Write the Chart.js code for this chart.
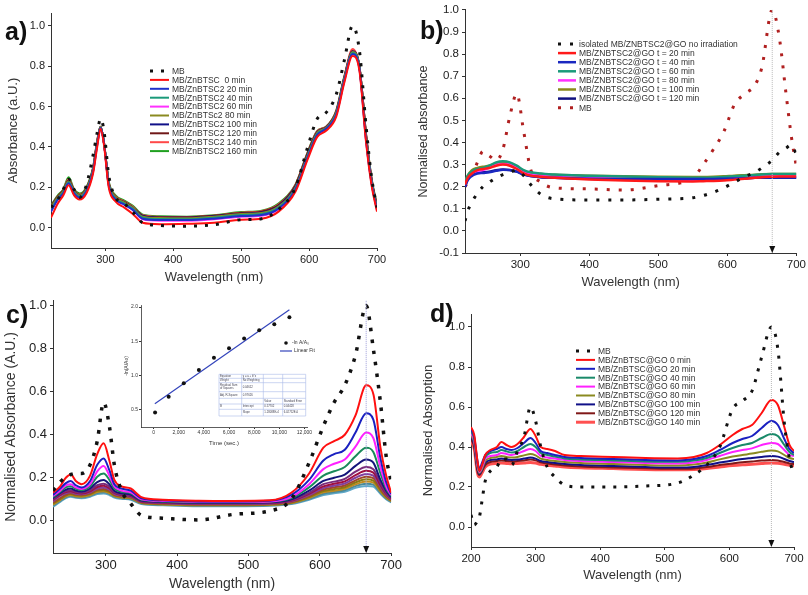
<!DOCTYPE html>
<html>
<head>
<meta charset="utf-8">
<script src="https://cdn.jsdelivr.net/npm/chart.js@4.4.0/dist/chart.umd.min.js"></script>
<style>
  body { margin: 0; background: #fff; width: 808px; height: 595px; position: relative; overflow: hidden; }
  canvas { position: absolute; }
  .lbl { position: absolute; font-family: "Liberation Sans", Arial, sans-serif; font-weight: bold; font-size: 25px; color: #111; }
</style>
</head>
<body>
<canvas id="chartA" width="404" height="290" style="left:0;top:0"></canvas>
<canvas id="chartB" width="404" height="290" style="left:404px;top:0"></canvas>
<canvas id="chartC" width="404" height="305" style="left:0;top:290px"></canvas>
<canvas id="chartD" width="404" height="305" style="left:404px;top:290px"></canvas>
<canvas id="chartIn" width="240" height="155" style="left:95px;top:298px"></canvas>
<div class="lbl" style="left:5px;top:17px">a)</div>
<div class="lbl" style="left:420px;top:16px">b)</div>
<div class="lbl" style="left:6px;top:300px">c)</div>
<div class="lbl" style="left:430px;top:299px">d)</div>
<script>
var FONT = '"Liberation Sans", Arial, Helvetica, sans-serif';

// ---------- panel a ----------
var waveA = [220,230,238,246,254,262,272,282,288,293,298,305,315,328,340,355,380,420,460,500,530,555,580,598,612,625,640,652,664,674,684,692,700];
var mbA = [0.10,0.14,0.19,0.24,0.19,0.15,0.21,0.36,0.47,0.54,0.48,0.26,0.15,0.12,0.08,0.025,0.012,0.008,0.015,0.04,0.045,0.09,0.20,0.40,0.54,0.57,0.66,0.83,1.0,0.88,0.50,0.25,0.10];
var a0 = [0.05,0.12,0.16,0.21,0.16,0.14,0.17,0.27,0.40,0.49,0.41,0.20,0.13,0.10,0.07,0.025,0.018,0.02,0.025,0.04,0.045,0.08,0.18,0.34,0.45,0.48,0.55,0.72,0.85,0.78,0.42,0.21,0.08];
var a20 = [0.08,0.14,0.17,0.22,0.17,0.15,0.18,0.28,0.41,0.495,0.42,0.21,0.14,0.115,0.09,0.045,0.038,0.038,0.045,0.058,0.063,0.095,0.19,0.35,0.46,0.49,0.56,0.73,0.86,0.79,0.43,0.22,0.09];
var a40 = [0.09,0.145,0.175,0.225,0.175,0.155,0.185,0.285,0.415,0.495,0.42,0.215,0.145,0.12,0.095,0.05,0.043,0.042,0.05,0.063,0.068,0.1,0.195,0.355,0.465,0.49,0.565,0.735,0.865,0.795,0.44,0.225,0.095];
var a60 = [0.085,0.14,0.17,0.22,0.17,0.15,0.18,0.28,0.41,0.49,0.415,0.21,0.14,0.115,0.09,0.042,0.035,0.035,0.042,0.055,0.06,0.092,0.19,0.35,0.46,0.485,0.56,0.73,0.86,0.79,0.43,0.22,0.09];
var a80 = [0.1,0.15,0.18,0.23,0.18,0.16,0.19,0.29,0.42,0.5,0.42,0.22,0.15,0.125,0.1,0.055,0.048,0.047,0.055,0.068,0.073,0.105,0.2,0.36,0.47,0.495,0.57,0.74,0.87,0.8,0.45,0.23,0.1];
var a100 = [0.1,0.15,0.18,0.23,0.18,0.16,0.19,0.29,0.42,0.5,0.42,0.22,0.15,0.125,0.1,0.058,0.05,0.05,0.057,0.07,0.076,0.108,0.205,0.365,0.472,0.497,0.572,0.742,0.872,0.8,0.45,0.235,0.1];
var a120 = [0.105,0.155,0.185,0.235,0.185,0.162,0.195,0.295,0.425,0.5,0.42,0.222,0.152,0.128,0.102,0.06,0.052,0.052,0.06,0.073,0.08,0.112,0.21,0.37,0.475,0.498,0.575,0.745,0.875,0.8,0.455,0.24,0.105];
var a140 = [0.105,0.155,0.185,0.24,0.185,0.165,0.195,0.295,0.43,0.5,0.42,0.225,0.155,0.13,0.105,0.062,0.054,0.053,0.06,0.075,0.082,0.115,0.212,0.372,0.478,0.5,0.578,0.748,0.885,0.8,0.46,0.24,0.105];
var a160 = [0.11,0.16,0.19,0.25,0.19,0.17,0.2,0.3,0.43,0.5,0.42,0.23,0.16,0.135,0.11,0.065,0.057,0.055,0.062,0.078,0.085,0.12,0.215,0.375,0.48,0.5,0.58,0.75,0.87,0.8,0.46,0.245,0.11];
var labelsA = ['MB', 'MB/ZnBTSC  0 min', 'MB/ZnBTSC2 20 min', 'MB/ZnBTSC2 40 min', 'MB/ZnBTSC2 60 min', 'MB/ZnBTSc2 80 min', 'MB/ZnBTSC2 100 min', 'MB/ZnBTSC2 120 min', 'MB/ZnBTSC2 140 min', 'MB/ZnBTSC2 160 min'];

// ---------- panel b ----------
var waveB = [220,224,230,238,246,255,265,275,285,295,305,315,330,350,400,450,500,550,565,580,595,610,625,640,650,665,675,685,693,700];
var isoB = [0.045,0.09,0.13,0.17,0.20,0.22,0.24,0.255,0.265,0.275,0.25,0.21,0.165,0.145,0.14,0.14,0.143,0.15,0.16,0.175,0.195,0.22,0.245,0.265,0.285,0.32,0.355,0.375,0.39,0.345];
var mbB = [0.20,0.22,0.25,0.31,0.36,0.34,0.32,0.37,0.52,0.62,0.45,0.28,0.22,0.195,0.19,0.185,0.205,0.24,0.30,0.37,0.45,0.57,0.62,0.66,0.74,1.0,0.88,0.62,0.42,0.29];
var b20 = [0.21,0.24,0.26,0.275,0.28,0.285,0.295,0.30,0.295,0.28,0.26,0.25,0.245,0.24,0.233,0.228,0.225,0.224,0.225,0.226,0.228,0.232,0.236,0.24,0.243,0.245,0.246,0.246,0.246,0.246];
var b40 = [0.20,0.23,0.25,0.26,0.262,0.265,0.272,0.277,0.275,0.268,0.255,0.248,0.243,0.24,0.236,0.235,0.235,0.235,0.235,0.235,0.236,0.237,0.238,0.24,0.241,0.242,0.242,0.242,0.242,0.242];
var b60 = [0.22,0.25,0.27,0.28,0.285,0.295,0.31,0.315,0.31,0.295,0.275,0.265,0.26,0.255,0.25,0.246,0.243,0.241,0.241,0.242,0.244,0.247,0.25,0.253,0.255,0.257,0.258,0.258,0.258,0.258];
var b80 = [0.21,0.24,0.26,0.27,0.275,0.285,0.298,0.303,0.30,0.285,0.265,0.255,0.25,0.245,0.24,0.236,0.233,0.232,0.232,0.233,0.235,0.238,0.241,0.244,0.246,0.248,0.249,0.249,0.249,0.249];
var b100 = [0.22,0.25,0.275,0.285,0.29,0.295,0.305,0.31,0.305,0.29,0.272,0.263,0.258,0.254,0.25,0.247,0.245,0.244,0.244,0.245,0.247,0.25,0.252,0.254,0.256,0.257,0.257,0.257,0.257,0.257];
var b120 = [0.20,0.235,0.255,0.263,0.265,0.268,0.275,0.278,0.276,0.268,0.256,0.248,0.243,0.24,0.236,0.234,0.234,0.234,0.234,0.235,0.236,0.237,0.238,0.24,0.24,0.241,0.241,0.241,0.241,0.241];
var labelsB = ['isolated MB/ZNBTSC2@GO no irradiation', 'MB/ZNBTSC2@GO t = 20 min', 'MB/ZNBTSC2@GO t = 40 min', 'MB/ZNBTSC2@GO t = 60 min', 'MB/ZNBTSC2@GO t = 80 min', 'MB/ZNBTSC2@GO t = 100 min', 'MB/ZNBTSC2@GO t = 120 min', 'MB'];

// ---------- panel c ----------
var waveC = [226,236,244,251,258,266,278,288,297,305,312,322,335,350,380,430,480,530,560,585,605,620,635,650,665,675,685,693,700];
var mbC = [0.14,0.18,0.205,0.215,0.22,0.22,0.26,0.37,0.55,0.44,0.26,0.14,0.08,0.025,0.012,0.004,0.03,0.046,0.10,0.27,0.44,0.55,0.63,0.77,1.0,0.80,0.55,0.30,0.18];
var c1 = [0.13,0.16,0.20,0.215,0.185,0.17,0.21,0.31,0.36,0.28,0.19,0.16,0.15,0.11,0.098,0.093,0.092,0.095,0.13,0.22,0.34,0.37,0.40,0.49,0.63,0.59,0.34,0.21,0.13];
var c2 = [0.12,0.15,0.175,0.185,0.165,0.155,0.185,0.26,0.29,0.235,0.17,0.15,0.14,0.105,0.095,0.09,0.09,0.093,0.12,0.19,0.28,0.31,0.33,0.41,0.50,0.47,0.29,0.18,0.125];
var c3 = [0.115,0.14,0.165,0.17,0.155,0.148,0.17,0.23,0.255,0.21,0.16,0.14,0.132,0.1,0.092,0.088,0.088,0.09,0.11,0.17,0.24,0.265,0.285,0.345,0.41,0.385,0.25,0.16,0.12];
var c4 = [0.11,0.135,0.155,0.16,0.148,0.142,0.16,0.205,0.22,0.19,0.15,0.135,0.128,0.097,0.09,0.086,0.086,0.088,0.105,0.155,0.21,0.23,0.25,0.30,0.34,0.32,0.22,0.15,0.115];
var c5 = [0.105,0.13,0.145,0.15,0.14,0.136,0.15,0.18,0.19,0.17,0.14,0.128,0.122,0.094,0.088,0.084,0.084,0.086,0.1,0.14,0.185,0.2,0.215,0.255,0.285,0.27,0.19,0.14,0.11];
var c6 = [0.1,0.125,0.138,0.142,0.134,0.13,0.142,0.165,0.172,0.158,0.133,0.123,0.118,0.092,0.086,0.082,0.082,0.084,0.096,0.13,0.17,0.182,0.195,0.228,0.25,0.24,0.175,0.13,0.105];
var c7 = [0.096,0.12,0.133,0.137,0.13,0.127,0.137,0.157,0.163,0.151,0.129,0.12,0.115,0.09,0.084,0.08,0.08,0.082,0.093,0.125,0.16,0.172,0.183,0.212,0.232,0.224,0.165,0.125,0.102];
var c8 = [0.09,0.115,0.128,0.132,0.126,0.123,0.132,0.15,0.155,0.145,0.125,0.117,0.112,0.088,0.082,0.078,0.078,0.08,0.09,0.12,0.152,0.163,0.173,0.2,0.218,0.21,0.158,0.12,0.1];
var c9 = [0.085,0.105,0.122,0.128,0.122,0.12,0.128,0.144,0.148,0.139,0.121,0.114,0.11,0.086,0.08,0.076,0.076,0.078,0.087,0.115,0.145,0.155,0.164,0.188,0.205,0.198,0.15,0.116,0.097];
var c10 = [0.08,0.1,0.117,0.124,0.118,0.116,0.124,0.139,0.142,0.134,0.118,0.111,0.107,0.084,0.078,0.074,0.074,0.076,0.084,0.11,0.138,0.147,0.156,0.178,0.193,0.187,0.143,0.112,0.094];
var c11 = [0.075,0.096,0.113,0.12,0.114,0.112,0.12,0.134,0.137,0.129,0.115,0.108,0.104,0.082,0.076,0.072,0.072,0.074,0.082,0.106,0.132,0.14,0.149,0.169,0.182,0.177,0.137,0.108,0.091];
var c12 = [0.07,0.092,0.109,0.116,0.11,0.108,0.116,0.129,0.132,0.125,0.112,0.105,0.101,0.08,0.074,0.07,0.07,0.072,0.08,0.102,0.126,0.134,0.142,0.161,0.172,0.168,0.131,0.104,0.088];
var c13 = [0.065,0.088,0.105,0.112,0.107,0.105,0.112,0.124,0.127,0.12,0.108,0.102,0.098,0.078,0.072,0.068,0.068,0.07,0.078,0.098,0.12,0.128,0.135,0.153,0.162,0.159,0.125,0.1,0.085];

// inset of panel c
var timeIn = [120,1200,2400,3600,4800,6000,7200,8400,9600,10800];
var lnIn = [0.46,0.69,0.89,1.08,1.26,1.40,1.54,1.66,1.75,1.85];
var fitT = [100,10800];
var fitY = [0.59,1.96];
var tableRows = [
  ['Equation', 'y = a + b*x', '', ''],
  ['Weight', 'No Weighting', '', ''],
  ['Residual Sum|of Squares', '0.04612', '', ''],
  ['Adj. R-Square', '0.97626', '', ''],
  ['', '', 'Value', 'Standard Error'],
  ['B', 'Intercept', '0.57702', '0.04428'],
  ['', 'Slope', '1.28088E-4', '6.02752E-6']
];

// ---------- panel d ----------
var waveD = [200,205,210,213,217,222,230,240,247,255,263,272,282,292,300,308,318,330,345,370,420,470,520,545,565,585,605,620,635,650,665,675,685,693,700];
var mbD = [0.06,0.01,0.03,0.05,0.13,0.23,0.28,0.30,0.34,0.34,0.31,0.38,0.45,0.60,0.53,0.40,0.30,0.25,0.21,0.20,0.20,0.205,0.22,0.26,0.31,0.40,0.59,0.63,0.68,0.85,1.0,0.89,0.52,0.34,0.26];
var d0 = [0.50,0.46,0.33,0.28,0.31,0.36,0.385,0.40,0.425,0.41,0.40,0.415,0.45,0.49,0.455,0.40,0.39,0.38,0.36,0.355,0.35,0.345,0.343,0.35,0.37,0.41,0.46,0.49,0.51,0.57,0.635,0.61,0.50,0.41,0.38];
var d20 = [0.49,0.45,0.33,0.29,0.32,0.36,0.38,0.39,0.40,0.39,0.385,0.395,0.42,0.445,0.42,0.38,0.37,0.36,0.35,0.345,0.34,0.335,0.333,0.34,0.355,0.385,0.42,0.44,0.455,0.495,0.53,0.51,0.44,0.39,0.37];
var d40 = [0.48,0.44,0.32,0.28,0.31,0.35,0.37,0.375,0.385,0.378,0.372,0.38,0.40,0.415,0.40,0.37,0.36,0.352,0.343,0.338,0.333,0.328,0.326,0.332,0.345,0.37,0.395,0.41,0.42,0.445,0.465,0.455,0.41,0.375,0.36];
var d60 = [0.47,0.43,0.31,0.275,0.30,0.34,0.355,0.36,0.37,0.365,0.36,0.367,0.38,0.39,0.38,0.355,0.348,0.342,0.335,0.33,0.325,0.32,0.318,0.323,0.335,0.355,0.375,0.385,0.393,0.41,0.42,0.415,0.385,0.36,0.355];
var d80 = [0.46,0.42,0.30,0.27,0.29,0.33,0.345,0.35,0.355,0.35,0.347,0.35,0.358,0.365,0.358,0.342,0.335,0.33,0.325,0.32,0.315,0.31,0.307,0.312,0.322,0.338,0.352,0.36,0.367,0.376,0.382,0.378,0.36,0.345,0.34];
var d100 = [0.45,0.41,0.29,0.265,0.285,0.32,0.335,0.338,0.342,0.338,0.335,0.337,0.342,0.347,0.342,0.33,0.325,0.32,0.315,0.31,0.305,0.30,0.297,0.30,0.31,0.322,0.333,0.34,0.345,0.35,0.355,0.352,0.34,0.33,0.325];
var d120 = [0.44,0.40,0.28,0.26,0.28,0.31,0.325,0.33,0.333,0.33,0.328,0.33,0.333,0.337,0.333,0.323,0.318,0.313,0.308,0.303,0.298,0.294,0.291,0.293,0.30,0.31,0.318,0.324,0.328,0.332,0.335,0.333,0.325,0.318,0.315];
var d140 = [0.43,0.39,0.27,0.25,0.27,0.30,0.315,0.318,0.32,0.318,0.316,0.318,0.32,0.323,0.32,0.313,0.309,0.305,0.30,0.296,0.292,0.288,0.286,0.288,0.293,0.30,0.307,0.311,0.314,0.317,0.32,0.319,0.314,0.309,0.306];
var labelsD = ['MB', 'MB/ZnBTSC@GO 0 min', 'MB/ZnBTSC@GO 20 min', 'MB/ZnBTSC@GO 40 min', 'MB/ZnBTSC@GO 60 min', 'MB/ZnBTSC@GO 80 min', 'MB/ZnBTSC@GO 100 min', 'MB/ZnBTSC@GO 120 min', 'MB/ZnBTSC@GO 140 min'];

var xTicks = [300,400,500,600,700];
var xTicksD = [200,300,400,500,600,700];
var yTicks = [0,0.2,0.4,0.6,0.8,1.0];
var yTicksB = [-0.1,0,0.1,0.2,0.3,0.4,0.5,0.6,0.7,0.8,0.9,1.0];
var xTicksIn = [0,2000,4000,6000,8000,10000,12000];
var yTicksIn = [0.5,1.0,1.5,2.0];

function pts(xs, ys) {
  return xs.map(function (x, i) { return { x: x, y: ys[i] }; });
}
function solid(label, xs, ys, color, w) {
  return { label: label, data: pts(xs, ys), borderColor: color, borderWidth: w, pointRadius: 0, cubicInterpolationMode: 'monotone' };
}
function dotted(label, xs, ys, color, w, gap) {
  return { label: label, data: pts(xs, ys), borderColor: color, borderWidth: w, borderDash: [w, gap], borderCapStyle: 'butt', pointRadius: 0, cubicInterpolationMode: 'monotone' };
}

// legend drawn inside the plot, Origin style
var boxLegend = {
  id: 'boxLegend',
  afterDraw: function (chart, args, o) {
    var ctx = chart.ctx;
    ctx.save();
    ctx.font = o.size + 'px ' + FONT;
    ctx.textBaseline = 'middle';
    chart.data.datasets.forEach(function (d, i) {
      var y = o.y + i * o.row;
      ctx.strokeStyle = d.borderColor;
      ctx.lineWidth = d.borderWidth;
      ctx.setLineDash(d.borderDash || []);
      ctx.beginPath();
      ctx.moveTo(o.x, y);
      ctx.lineTo(o.x + o.len, y);
      ctx.stroke();
      ctx.fillStyle = '#333';
      ctx.fillText(d.label, o.x + o.len + 3, y + 0.5);
    });
    ctx.restore();
  }
};

// dotted guide at the 665 nm peak with the arrow on the axis
var peakMark = {
  id: 'peakMark',
  afterDatasetsDraw: function (chart, args, o) {
    var ctx = chart.ctx, a = chart.chartArea;
    var px = chart.scales.x.getPixelForValue(o.at);
    var top = o.from !== undefined ? chart.scales.y.getPixelForValue(o.from) : a.top;
    ctx.save();
    ctx.strokeStyle = o.color;
    ctx.lineWidth = 1;
    ctx.setLineDash([1, 1]);
    ctx.beginPath();
    ctx.moveTo(px, top);
    ctx.lineTo(px, a.bottom);
    ctx.stroke();
    ctx.setLineDash([]);
    ctx.fillStyle = '#111';
    ctx.beginPath();
    ctx.moveTo(px - 3, a.bottom - 7);
    ctx.lineTo(px + 3, a.bottom - 7);
    ctx.lineTo(px, a.bottom);
    ctx.closePath();
    ctx.fill();
    ctx.restore();
  }
};

function spectrum(id, datasets, s) {
  return new Chart(document.getElementById(id), {
    type: 'line',
    data: { datasets: datasets },
    options: {
      responsive: false,
      animation: false,
      events: [],
      layout: { padding: s.pad, autoPadding: false },
      plugins: {
        legend: { display: false },
        tooltip: { enabled: false },
        boxLegend: s.legend || false,
        peakMark: s.mark || false
      },
      scales: {
        x: {
          type: 'linear', min: s.xMin, max: 700,
          afterBuildTicks: function (ax) { ax.ticks = s.xTicks.map(function (v) { return { value: v }; }); },
          afterFit: function (ax) { ax.height = s.xH; },
          grid: { drawOnChartArea: false, color: '#333', tickLength: 3 },
          border: { color: '#333', width: 1 },
          ticks: { color: '#222', font: { family: FONT, size: s.tick }, padding: 2, maxRotation: 0, autoSkip: false },
          title: { display: true, text: 'Wavelength (nm)', color: '#333', font: { family: FONT, size: s.xTitle }, padding: { top: 0, bottom: s.xTitlePad } }
        },
        y: {
          min: s.yMin, max: s.yMax,
          afterBuildTicks: function (ax) { ax.ticks = s.yTicks.map(function (v) { return { value: v }; }); },
          afterFit: function (ax) { ax.width = s.yW; },
          grid: { drawOnChartArea: false, color: '#333', tickLength: 3 },
          border: { color: '#333', width: 1 },
          ticks: { color: '#222', font: { family: FONT, size: s.tick }, padding: 3, callback: function (v) { return v.toFixed(1); } },
          title: { display: true, text: s.yTitle, color: '#333', font: { family: FONT, size: s.yTitleSize }, padding: { top: s.yTitlePad, bottom: 0 } }
        }
      }
    },
    plugins: [boxLegend, peakMark]
  });
}

// a)
spectrum('chartA', [
  dotted(labelsA[0], waveA, mbA, '#111111', 3, 8),
  solid(labelsA[1], waveA, a0, '#ff1010', 2),
  solid(labelsA[2], waveA, a20, '#2030c8', 2),
  solid(labelsA[3], waveA, a40, '#1a9a7a', 2),
  solid(labelsA[4], waveA, a60, '#ff30ff', 2),
  solid(labelsA[5], waveA, a80, '#8a8a20', 2),
  solid(labelsA[6], waveA, a100, '#101088', 2),
  solid(labelsA[7], waveA, a120, '#701818', 2),
  solid(labelsA[8], waveA, a140, '#ff4848', 2),
  solid(labelsA[9], waveA, a160, '#20a020', 2)
], {
  pad: { left: 0, right: 27, top: 13, bottom: 0 }, yW: 51, xH: 42,
  xMin: 220, yMin: -0.1, yMax: 1.063, xTicks: xTicks, yTicks: yTicks,
  tick: 11, xTitle: 13, xTitlePad: 5, yTitle: 'Absorbance (a.U.)', yTitleSize: 13, yTitlePad: 6,
  legend: { x: 150, y: 71, row: 8.9, len: 19, size: 8.5 }
});

// b)
spectrum('chartB', [
  dotted(labelsB[0], waveB, isoB, '#111111', 3, 9),
  solid(labelsB[1], waveB, b20, '#ff1a1a', 2.5),
  solid(labelsB[2], waveB, b40, '#1a28c0', 2.5),
  solid(labelsB[3], waveB, b60, '#1a9a7a', 2.5),
  solid(labelsB[4], waveB, b80, '#ff30ff', 2.5),
  solid(labelsB[5], waveB, b100, '#8a8a1a', 2.5),
  solid(labelsB[6], waveB, b120, '#101080', 2.5),
  dotted(labelsB[7], waveB, mbB, '#b02020', 3, 9)
], {
  pad: { left: 0, right: 11, top: 7, bottom: 0 }, yW: 61, xH: 37,
  xMin: 220, yMin: -0.1, yMax: 1.0, xTicks: xTicks, yTicks: yTicksB,
  tick: 11.5, xTitle: 13, xTitlePad: 0, yTitle: 'Normalised absorbance', yTitleSize: 12.5, yTitlePad: 12,
  legend: { x: 154, y: 44, row: 9.1, len: 18, size: 8.5 },
  mark: { at: 665, color: '#b8b8b8' }
});

// c)
spectrum('chartC', [
  dotted('MB', waveC, mbC, '#111111', 3.5, 8),
  solid('0', waveC, c1, '#ff1010', 2),
  solid('1', waveC, c2, '#1a20c0', 2),
  solid('2', waveC, c3, '#ff20ff', 2),
  solid('3', waveC, c4, '#1a8a5a', 2),
  solid('4', waveC, c5, '#14147a', 2),
  solid('5', waveC, c6, '#7a2a7a', 2),
  solid('6', waveC, c7, '#a01040', 2),
  solid('7', waveC, c8, '#8040a0', 2),
  solid('8', waveC, c9, '#a04828', 2),
  solid('9', waveC, c10, '#8a7a10', 2),
  solid('10', waveC, c11, '#c08a20', 2),
  solid('11', waveC, c12, '#4a8a9a', 2),
  solid('12', waveC, c13, '#60a8c8', 2)
], {
  pad: { left: 0, right: 6, top: 10, bottom: 0 }, yW: 53, xH: 42,
  xMin: 226, yMin: -0.15, yMax: 1.023, xTicks: xTicks, yTicks: yTicks,
  tick: 13, xTitle: 14, xTitlePad: 2, yTitle: 'Normalised Absorbance (A.U.)', yTitleSize: 14, yTitlePad: 3,
  mark: { at: 665, color: '#9a9ad8' }
});

// d)
spectrum('chartD', [
  dotted(labelsD[0], waveD, mbD, '#111111', 3, 8),
  solid(labelsD[1], waveD, d0, '#ff1010', 2),
  solid(labelsD[2], waveD, d20, '#1a20c0', 2),
  solid(labelsD[3], waveD, d40, '#1a8a6a', 2),
  solid(labelsD[4], waveD, d60, '#ff20ff', 2),
  solid(labelsD[5], waveD, d80, '#8a8a20', 2),
  solid(labelsD[6], waveD, d100, '#101088', 2),
  solid(labelsD[7], waveD, d120, '#801818', 2),
  solid(labelsD[8], waveD, d140, '#ff5050', 3)
], {
  pad: { left: 0, right: 14, top: 24, bottom: 0 }, yW: 67, xH: 48,
  xMin: 200, yMin: -0.1, yMax: 1.065, xTicks: xTicksD, yTicks: yTicks,
  tick: 11.5, xTitle: 13, xTitlePad: 12, yTitle: 'Normalised Absorption', yTitleSize: 13, yTitlePad: 17,
  legend: { x: 172, y: 61, row: 8.9, len: 19, size: 8.5 },
  mark: { at: 665, color: '#b8b8b8', from: 1.0 }
});

// inset: kinetics, -ln(A/A0) against time
var insetExtras = {
  id: 'insetExtras',
  afterDraw: function (chart) {
    var ctx = chart.ctx;
    ctx.save();
    // legend
    ctx.font = '5px ' + FONT;
    ctx.textBaseline = 'middle';
    ctx.fillStyle = '#111';
    ctx.beginPath();
    ctx.arc(191, 45, 1.8, 0, Math.PI * 2);
    ctx.fill();
    ctx.fillStyle = '#333';
    ctx.fillText('-ln A/A\u2080', 197, 45);
    ctx.strokeStyle = '#3344bb';
    ctx.lineWidth = 1.2;
    ctx.beginPath();
    ctx.moveTo(185, 53);
    ctx.lineTo(197, 53);
    ctx.stroke();
    ctx.fillText('Linear Fit', 199, 53);
    // fit table
    var cols = [124, 146.7, 168.3, 187.7, 210.7];
    var rows = [76.3, 80.3, 84.7, 93.7, 100.3, 106, 111.3, 118];
    ctx.fillStyle = '#fff';
    ctx.fillRect(cols[0], rows[0], cols[4] - cols[0], rows[7] - rows[0]);
    ctx.strokeStyle = '#a8b8e8';
    ctx.lineWidth = 0.6;
    rows.forEach(function (y) { ctx.beginPath(); ctx.moveTo(cols[0], y); ctx.lineTo(cols[4], y); ctx.stroke(); });
    cols.forEach(function (x) { ctx.beginPath(); ctx.moveTo(x, rows[0]); ctx.lineTo(x, rows[7]); ctx.stroke(); });
    ctx.fillStyle = '#445';
    ctx.font = '2.8px ' + FONT;
    tableRows.forEach(function (r, i) {
      r.forEach(function (t, j) {
        var parts = t.split('|');
        parts.forEach(function (p, k) {
          ctx.fillText(p, cols[j] + 1, (rows[i] + rows[i + 1]) / 2 + (k - (parts.length - 1) / 2) * 3);
        });
      });
    });
    ctx.restore();
  }
};

new Chart(document.getElementById('chartIn'), {
  type: 'scatter',
  data: {
    datasets: [
      { label: '-ln A/A\u2080', data: pts(timeIn, lnIn), pointRadius: 2, pointBackgroundColor: '#111', pointBorderWidth: 0, showLine: false },
      { label: 'Linear Fit', data: pts(fitT, fitY), showLine: true, borderColor: '#3344bb', borderWidth: 1.2, pointRadius: 0 }
    ]
  },
  options: {
    responsive: false,
    animation: false,
    events: [],
    layout: { padding: { left: 0, right: 28, top: 7, bottom: 0 }, autoPadding: false },
    plugins: { legend: { display: false }, tooltip: { enabled: false } },
    scales: {
      x: {
        type: 'linear', min: -1000, max: 12200,
        afterBuildTicks: function (ax) { ax.ticks = xTicksIn.map(function (v) { return { value: v }; }); },
        afterFit: function (ax) { ax.height = 26; },
        grid: { drawOnChartArea: false, color: '#333', tickLength: 2 },
        border: { color: '#333', width: 0.8 },
        ticks: { color: '#333', font: { family: FONT, size: 5 }, padding: 1, maxRotation: 0, autoSkip: false },
        title: { display: true, text: 'Time (sec.)', color: '#333', font: { family: FONT, size: 6 }, padding: { top: 0, bottom: 6 } }
      },
      y: {
        min: 0.25, max: 2.03,
        afterBuildTicks: function (ax) { ax.ticks = yTicksIn.map(function (v) { return { value: v }; }); },
        afterFit: function (ax) { ax.width = 46; },
        grid: { drawOnChartArea: false, color: '#333', tickLength: 2 },
        border: { color: '#333', width: 0.8 },
        ticks: { color: '#333', font: { family: FONT, size: 5 }, padding: 1, callback: function (v) { return v.toFixed(1); } },
        title: { display: true, text: '-ln(A/Ao)', color: '#333', font: { family: FONT, size: 5 }, padding: { top: 29, bottom: 0 } }
      }
    }
  },
  plugins: [insetExtras]
});
</script>
</body>
</html>
